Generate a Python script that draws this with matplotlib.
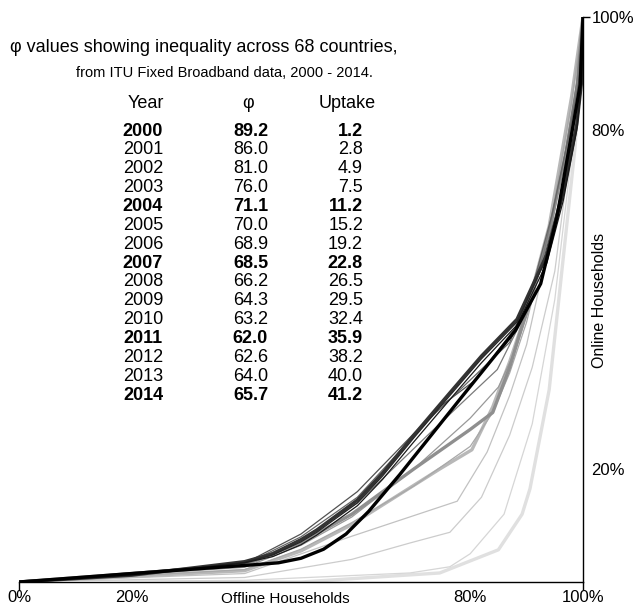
import matplotlib.pyplot as plt

plt.rcParams['font.family'] = ['Liberation Sans', 'DejaVu Sans']

# table values
years = [2000, 2001, 2002, 2003, 2004, 2005, 2006, 2007, 2008, 2009, 2010, 2011, 2012, 2013, 2014]
phi = [89.2, 86.0, 81.0, 76.0, 71.1, 70.0, 68.9, 68.5, 66.2, 64.3, 63.2, 62.0, 62.6, 64.0, 65.7]
uptake = [1.2, 2.8, 4.9, 7.5, 11.2, 15.2, 19.2, 22.8, 26.5, 29.5, 32.4, 35.9, 38.2, 40.0, 41.2]
bold_years = [2000, 2004, 2007, 2011, 2014]

# Lorenz curves, share of offline households (x) vs share of online households (y)
curve_x = [
    [0, 0.5, 0.746, 0.85, 0.892, 0.906, 0.94, 0.986, 1.0],
    [0, 0.4, 0.693, 0.764, 0.8, 0.86, 0.91, 0.95, 0.985, 1.0],
    [0, 0.4, 0.59, 0.693, 0.764, 0.82, 0.87, 0.91, 0.95, 0.985, 1.0],
    [0, 0.4, 0.587, 0.777, 0.83, 0.87, 0.9, 0.94, 0.98, 1.0],
    [0, 0.4, 0.5, 0.587, 0.746, 0.803, 0.84, 0.87, 0.9, 0.94, 0.98, 1.0],
    [0, 0.4, 0.5, 0.59, 0.7, 0.8, 0.84, 0.87, 0.9, 0.94, 0.98, 1.0],
    [0, 0.4, 0.5, 0.59, 0.7, 0.8, 0.85, 0.88, 0.91, 0.95, 0.985, 1.0],
    [0, 0.4, 0.5, 0.59, 0.7, 0.8, 0.84, 0.87, 0.906, 0.94, 0.97, 0.99, 1.0],
    [0, 0.4, 0.5, 0.6, 0.729, 0.848, 0.89, 0.93, 0.965, 0.99, 1.0],
    [0, 0.4, 0.5, 0.6, 0.729, 0.87, 0.91, 0.945, 0.975, 0.995, 1.0],
    [0, 0.4, 0.5, 0.6, 0.746, 0.81, 0.88, 0.93, 0.965, 0.99, 1.0],
    [0, 0.2, 0.4, 0.45, 0.5, 0.528, 0.6, 0.645, 0.7, 0.764, 0.82, 0.883, 0.936, 0.965, 0.989, 0.998, 1.0],
    [0, 0.2, 0.4, 0.45, 0.5, 0.528, 0.6, 0.645, 0.7, 0.764, 0.82, 0.883, 0.936, 0.965, 0.989, 0.998, 1.0],
    [0, 0.2, 0.4, 0.45, 0.5, 0.528, 0.6, 0.645, 0.7, 0.764, 0.82, 0.883, 0.936, 0.965, 0.989, 0.998, 1.0],
    [0, 0.2, 0.41, 0.46, 0.5, 0.54, 0.58, 0.62, 0.675, 0.787, 0.88, 0.925, 0.954, 0.975, 0.995, 1.0],
]
curve_y = [
    [0, 0.0, 0.016, 0.057, 0.12, 0.165, 0.34, 0.77, 1.0],
    [0, 0.003, 0.016, 0.027, 0.05, 0.12, 0.28, 0.5, 0.8, 1.0],
    [0, 0.008, 0.04, 0.069, 0.088, 0.15, 0.26, 0.38, 0.55, 0.82, 1.0],
    [0, 0.015, 0.08, 0.143, 0.23, 0.33, 0.42, 0.6, 0.85, 1.0],
    [0, 0.02, 0.055, 0.1, 0.2, 0.234, 0.31, 0.39, 0.48, 0.63, 0.86, 1.0],
    [0, 0.022, 0.058, 0.105, 0.17, 0.24, 0.3, 0.37, 0.46, 0.62, 0.85, 1.0],
    [0, 0.026, 0.065, 0.115, 0.2, 0.29, 0.345, 0.41, 0.5, 0.66, 0.85, 1.0],
    [0, 0.03, 0.07, 0.12, 0.2, 0.27, 0.3, 0.38, 0.5, 0.62, 0.76, 0.88, 1.0],
    [0, 0.03, 0.075, 0.14, 0.264, 0.376, 0.46, 0.58, 0.74, 0.89, 1.0],
    [0, 0.031, 0.08, 0.15, 0.29, 0.424, 0.52, 0.65, 0.79, 0.9, 1.0],
    [0, 0.033, 0.085, 0.16, 0.31, 0.358, 0.45, 0.57, 0.7, 0.85, 1.0],
    [0, 0.012, 0.036, 0.05, 0.075, 0.092, 0.145, 0.193, 0.26, 0.335, 0.4, 0.465, 0.58, 0.69, 0.81, 0.89, 1.0],
    [0, 0.012, 0.035, 0.048, 0.071, 0.088, 0.14, 0.188, 0.255, 0.33, 0.395, 0.46, 0.575, 0.685, 0.805, 0.89, 1.0],
    [0, 0.012, 0.034, 0.045, 0.066, 0.083, 0.135, 0.182, 0.248, 0.323, 0.388, 0.455, 0.565, 0.675, 0.8, 0.885, 1.0],
    [0, 0.015, 0.03, 0.034, 0.042, 0.058, 0.085, 0.125, 0.19, 0.33, 0.445, 0.528, 0.647, 0.766, 0.88, 1.0],
]

grays = [0.88, 0.84, 0.8, 0.76, 0.72, 0.66, 0.6, 0.56, 0.48, 0.4, 0.32, 0.2, 0.15, 0.1, 0.0]

fig = plt.figure(figsize=(6.38, 6.06), dpi=100)
ax = fig.add_axes([19 / 638, 24 / 606, 564 / 638, 565 / 606])

for i in range(len(years)):
    g = grays[i]
    if years[i] in bold_years:
        lw = 2.4
    else:
        lw = 0.9
    ax.plot(curve_x[i], curve_y[i], color=(g, g, g), lw=lw,
            solid_joinstyle='round', solid_capstyle='round', zorder=2 + i)

ax.set_xlim(0, 1)
ax.set_ylim(0, 1)
ax.spines['top'].set_visible(False)
ax.spines['left'].set_visible(False)
ax.spines['bottom'].set_linewidth(1.0)
ax.spines['right'].set_linewidth(1.0)
ax.yaxis.tick_right()

ax.set_xticks([0, 1])
ax.set_xticklabels(['0%', '100%'])
ax.set_xticks([0.2, 0.8], minor=True)
ax.set_xticklabels(['20%', '80%'], minor=True)
ax.tick_params(axis='x', which='major', length=6, width=1, pad=0, labelsize=12)
ax.tick_params(axis='x', which='minor', length=0, pad=6, labelsize=12)

ax.set_yticks([1])
ax.set_yticklabels(['100%'])
ax.set_yticks([0.2, 0.8], minor=True)
ax.set_yticklabels(['20%', '80%'], minor=True)
ax.tick_params(axis='y', which='major', length=5, width=1, pad=1, labelsize=12)
ax.tick_params(axis='y', which='minor', length=0, pad=6, labelsize=12)

fig.text(285 / 638, 1 - 599 / 606, 'Offline Households', ha='center', va='center', fontsize=11)
fig.text(600 / 638, 1 - 300 / 606, 'Online Households', ha='center', va='center', rotation=90, fontsize=11.5)

fig.text(10 / 638, 1 - 48 / 606, 'φ values showing inequality across 68 countries,',
         ha='left', va='center', fontsize=13)
fig.text(224 / 638, 1 - 73 / 606, 'from ITU Fixed Broadband data, 2000 - 2014.',
         ha='center', va='center', fontsize=10.5)

fig.text(146 / 638, 1 - 103 / 606, 'Year', ha='center', va='center', fontsize=13)
fig.text(248 / 638, 1 - 103 / 606, 'φ', ha='center', va='center', fontsize=13)
fig.text(347 / 638, 1 - 103 / 606, 'Uptake', ha='center', va='center', fontsize=13)
for i in range(len(years)):
    yy = 1 - (131 + i * 18.86) / 606
    fw = 'bold' if years[i] in bold_years else 'normal'
    fig.text(163 / 638, yy, str(years[i]), ha='right', va='center', fontsize=13, fontweight=fw)
    fig.text(268 / 638, yy, '%.1f' % phi[i], ha='right', va='center', fontsize=13, fontweight=fw)
    fig.text(363 / 638, yy, '%.1f' % uptake[i], ha='right', va='center', fontsize=13, fontweight=fw)

plt.savefig('out.png', dpi=100)
